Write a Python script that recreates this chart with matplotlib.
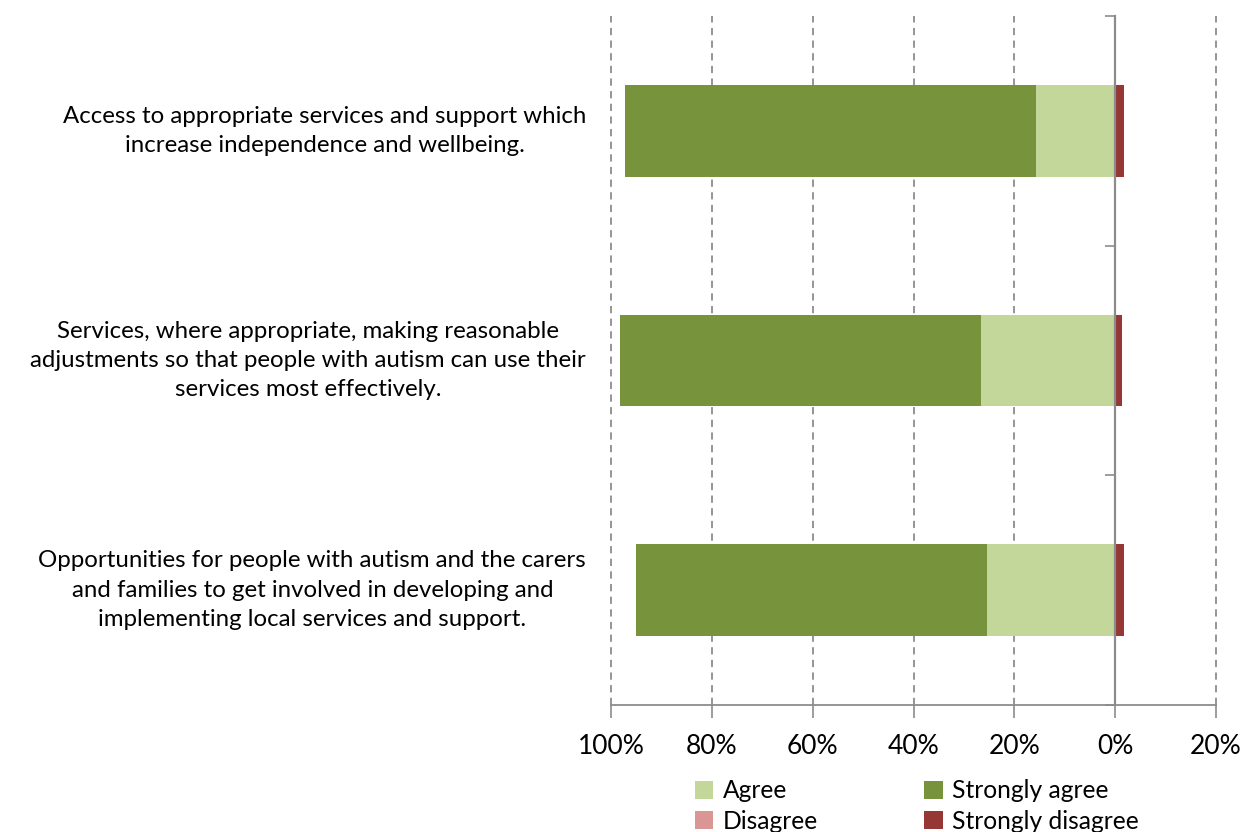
import numpy as np
import matplotlib
matplotlib.use("Agg")
import matplotlib.pyplot as plt
from matplotlib.transforms import blended_transform_factory

plt.rcParams['font.family'] = ['Lato', 'DejaVu Sans']

statements = [
    "Access to appropriate services and support which\nincrease independence and wellbeing.",
    "Services, where appropriate, making reasonable\nadjustments so that people with autism can use their\nservices most effectively.",
    "Opportunities for people with autism and the carers\nand families to get involved in developing and\nimplementing local services and support.",
]
agree = [15.7, 26.6, 25.4]
strongly_agree = [81.5, 71.6, 69.6]
disagree = [0.0, 0.0, 0.0]
strongly_disagree = [1.8, 1.4, 1.8]
x_ticks = [-100, -80, -60, -40, -20, 0, 20]

col_agree = '#C4D79B'
col_sagree = '#77933C'
col_disagree = '#D99694'
col_sdisagree = '#953735'
grey = '#8C8C8C'

fig = plt.figure(figsize=(12.41, 8.32), dpi=100)
ax = fig.add_axes([611 / 1241, 1 - 705 / 832, 605 / 1241, 689 / 832])

y = np.arange(len(statements))
agree = np.array(agree)
strongly_agree = np.array(strongly_agree)
disagree = np.array(disagree)
strongly_disagree = np.array(strongly_disagree)
h = 0.4

# agreement grows to the left of zero, disagreement to the right
ax.barh(y, -agree, height=h, color=col_agree, label='Agree', zorder=3)
ax.barh(y, -strongly_agree, left=-agree, height=h, color=col_sagree,
        label='Strongly agree', zorder=3)
ax.barh(y, disagree, height=h, color=col_disagree, label='Disagree', zorder=3)
ax.barh(y, strongly_disagree, left=disagree, height=h, color=col_sdisagree,
        label='Strongly disagree', zorder=3)

ax.set_xlim(-100, 20)
ax.set_ylim(2.5, -0.5)
ax.set_xticks(x_ticks)
ax.set_xticklabels([f"{abs(t)}%" for t in x_ticks], fontsize=19)
ax.tick_params(axis='x', length=9, width=1.2, color=grey, pad=12)

for t in x_ticks:
    if t != 0:
        ax.axvline(t, color=grey, lw=1.3, ls=(0, (4, 3)), zorder=1,
                   clip_on=False)

for s in ['top', 'right']:
    ax.spines[s].set_visible(False)
ax.spines['bottom'].set_color(grey)
ax.spines['bottom'].set_linewidth(1.3)
ax.spines['left'].set_position(('data', 0))
ax.spines['left'].set_color(grey)
ax.spines['left'].set_linewidth(1.6)
ax.spines['left'].set_zorder(4)
ax.set_yticks([-0.5, 0.5, 1.5, 2.5])
ax.set_yticklabels([])
ax.tick_params(axis='y', length=7, width=1.2, color=grey)

trans = blended_transform_factory(ax.transAxes, ax.transData)
for yi, label in zip(y, statements):
    ax.text(-0.041, yi, label, transform=trans, ha='right', va='center',
            multialignment='center', fontsize=17.3, linespacing=1.5)

handles, labels = ax.get_legend_handles_labels()
order = [0, 2, 1, 3]
fig.legend([handles[i] for i in order], [labels[i] for i in order],
           loc='upper center', bbox_to_anchor=(917 / 1241, 1 - 767 / 832),
           ncol=2, frameon=False, fontsize=17.7, handlelength=0.75,
           handleheight=0.75, handletextpad=0.4, columnspacing=4.3,
           labelspacing=0.3, borderpad=0)

fig.savefig('out.png', dpi=100)
